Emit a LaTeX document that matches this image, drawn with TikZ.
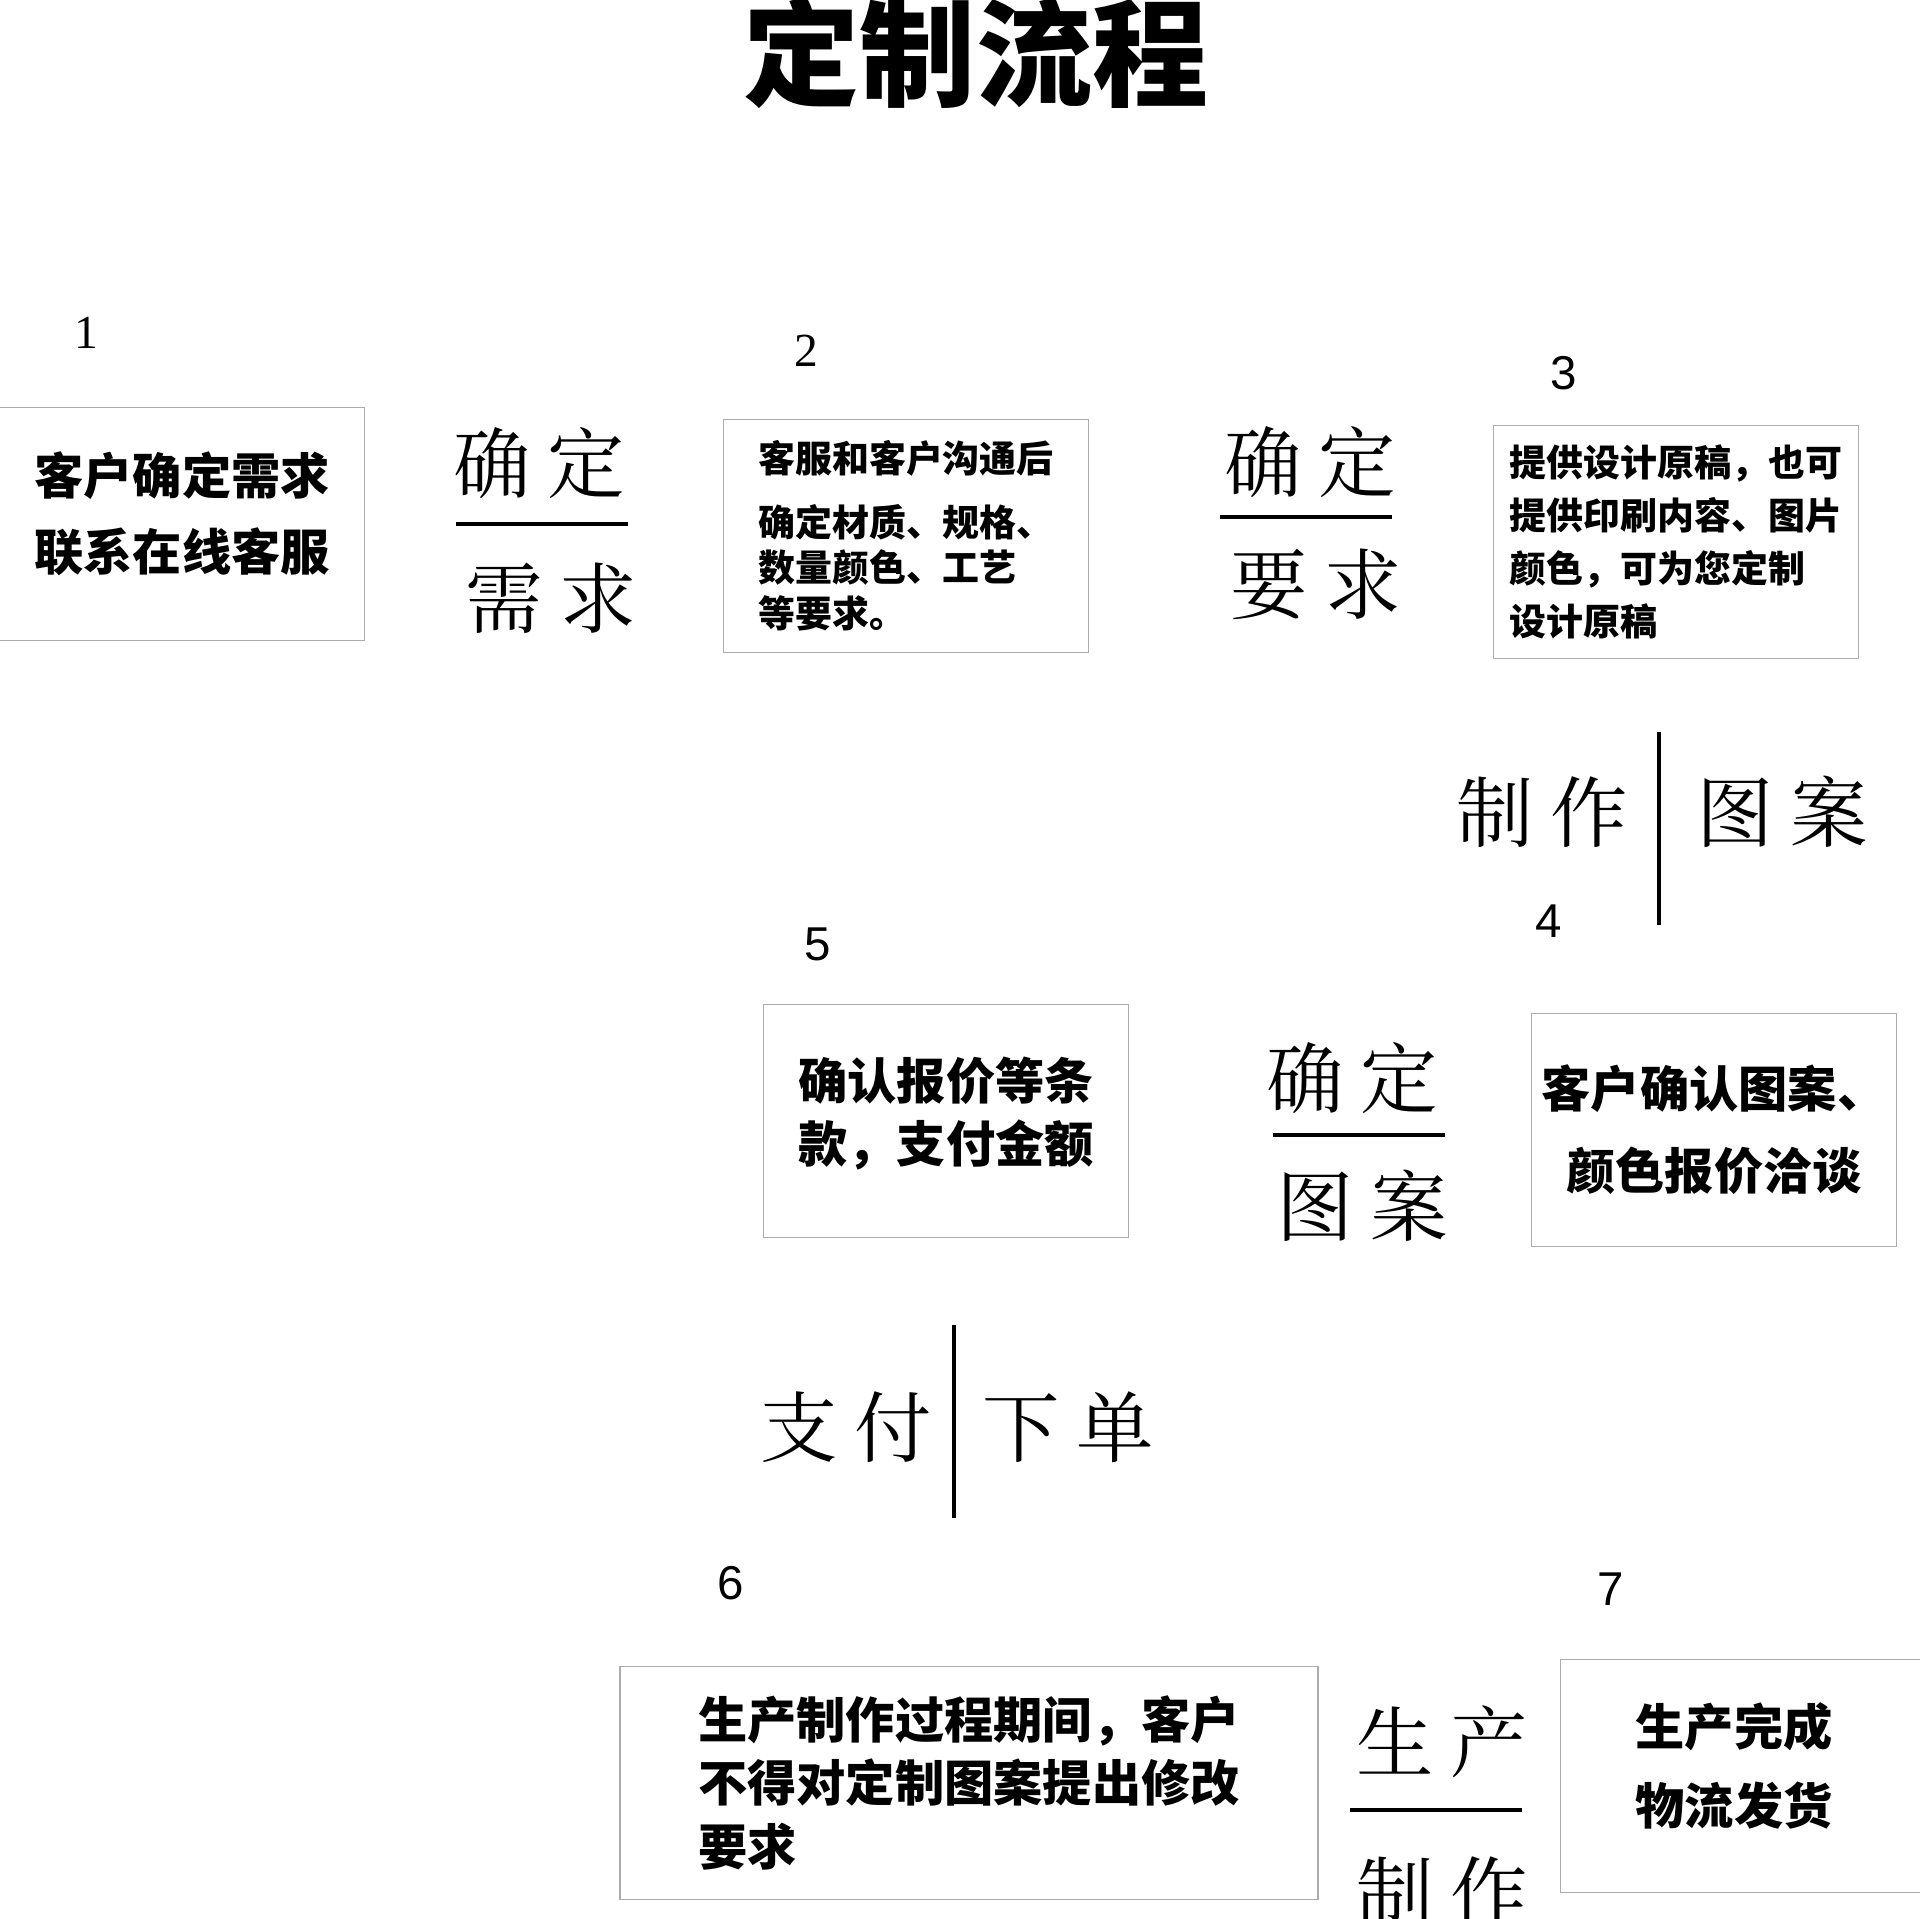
\documentclass[tikz,border=0pt]{standalone}
\usepackage{fontspec}
\usepackage{tikz}
\usetikzlibrary{positioning}
\newfontfamily\cjk{Noto Sans CJK SC}
\newfontfamily\cjkthin{Noto Serif CJK SC}
\newfontfamily\numserif{Liberation Serif}
\newfontfamily\numsans{Liberation Sans}
\newcommand\gp{\hspace{0.22em}}

\begin{document}
\begin{tikzpicture}[x=0.01cm,y=-0.01cm,
    every node/.style={inner sep=0pt},
    stepbox/.style={draw=gray!65,line width=0.5pt,minimum width=3.65cm,
      minimum height=2.33cm,align=center},
    bigword/.style={font=\cjkthin\fontsize{22}{22}\selectfont},
    sep/.style={line width=0.9pt}]
  \clip (0,0) rectangle (1920,1919);

  % ---------------- Title ----------------
  \node[font=\cjk\bfseries\fontsize{33}{33}\selectfont] (title) at (976,53) {定制流程};

  % ---------------- Step numbers ----------------
  \foreach \n/\x/\y/\f in {
      1/86/333/\numserif, 2/806/351/\numserif, 3/1564/373/\numsans,
      4/1549/921/\numsans, 5/818/944/\numsans, 6/731/1583/\numsans,
      7/1611/1589/\numsans}{
    \node[font=\f\fontsize{13.5}{13.5}\selectfont] (num\n) at (\x,\y) {\n};
  }

  % ---------------- Step boxes ----------------
  \node[stepbox,text depth=7.5pt,font=\cjk\bfseries\fontsize{14}{21.5}\selectfont]
    (box1) at (182,524) {客户确定需求\\联系在线客服};
  \node[stepbox,align=left,font=\cjk\bfseries\fontsize{10.5}{13}\selectfont]
    (box2) at (906,536) {客服和客户沟通后\\[5pt]确定材质、规格、\\数量颜色、工艺\\等要求。};
  \node[stepbox,align=left,font=\cjk\bfseries\fontsize{10.5}{15}\selectfont]
    (box3) at (1676,542) {提供设计原稿，也可\\提供印刷内容、图片\\颜色，可为您定制\\设计原稿};
  \node[stepbox,font=\cjk\bfseries\fontsize{14}{23.3}\selectfont]
    (box4) at (1714,1130) {客户确认图案、\\颜色报价洽谈};
  \node[stepbox,text depth=6.5pt,font=\cjk\bfseries\fontsize{14}{18}\selectfont]
    (box5) at (946,1121) {确认报价等条\\款，支付金额};
  \node[stepbox,minimum width=6.97cm,align=left,font=\cjk\bfseries\fontsize{14}{18}\selectfont]
    (box6) at (969,1783) {生产制作过程期间，客户\\不得对定制图案提出修改\\要求};
  \node[stepbox,text depth=7pt,font=\cjk\bfseries\fontsize{14}{22.5}\selectfont]
    (box7) at (1743,1776) {生产完成\hspace*{5pt}\\物流发货\hspace*{5pt}};

  % ---------------- Stacked words (over / under a rule) ----------------
  \foreach \g/\tx/\ty/\lx/\ly/\bx/\by/\up/\dn in {
      a/539/463/542/524/551/598/确\gp 定/需\gp 求,
      b/1310/462/1306/517/1316/585/确\gp 定/要\gp 求,
      c/1352/1078/1359/1135/1362/1206/确\gp 定/图\gp 案,
      d/1442/1742/1436/1810/1442/1892/生\gp 产/制\gp 作}{
    \node[bigword] (\g-up) at (\tx,\ty) {\up};
    \node[bigword] (\g-dn) at (\bx,\by) {\dn};
    \coordinate (\g-l) at (\lx-86,\ly);
    \coordinate (\g-r) at (\lx+86,\ly);
    \draw[sep] (\g-l) -- (\g-r);
  }

  % ---------------- Side by side words (split by a bar) ----------------
  \foreach \g/\lx/\rx/\cy/\vx/\vt/\vb/\lw/\rw in {
      e/1542/1782/812/1659/732/925/制\gp 作/图\gp 案,
      f/846/1068/1427/954/1325/1518/支\gp 付/下\gp 单}{
    \node[bigword] (\g-lw) at (\lx,\cy) {\lw};
    \node[bigword] (\g-rw) at (\rx,\cy) {\rw};
    \coordinate (\g-t) at (\vx,\vt);
    \coordinate (\g-b) at (\vx,\vb);
    \draw[sep] (\g-t) -- (\g-b);
  }
\end{tikzpicture}
\end{document}
